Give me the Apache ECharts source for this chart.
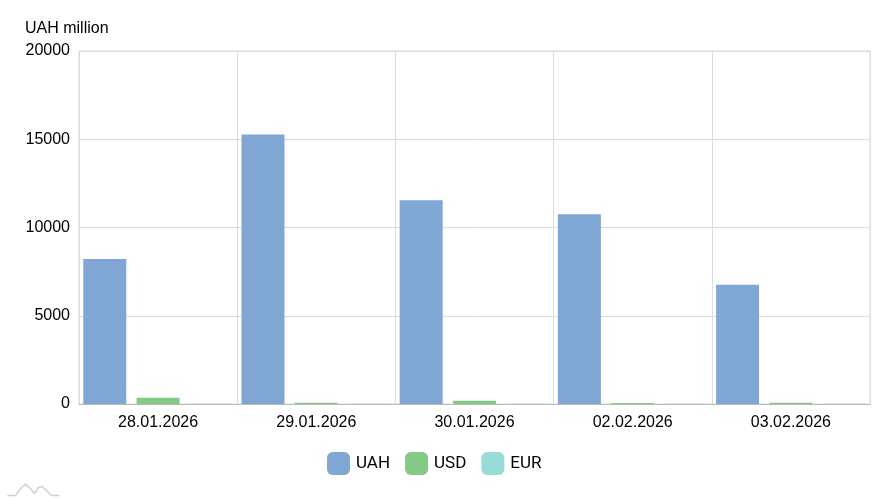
<!DOCTYPE html>
<html>
<head>
<meta charset="utf-8">
<script src="https://cdn.jsdelivr.net/npm/echarts@6/dist/echarts.min.js"></script>
<style>html,body{margin:0;padding:0;background:#fff}#c{width:891px;height:500px}</style>
</head>
<body>
<div id="c"></div>
<script>
const categories = ['28.01.2026', '29.01.2026', '30.01.2026', '02.02.2026', '03.02.2026'];
const uahValues = [8220, 15270, 11550, 10750, 6750];
const usdValues = [350, 70, 190, 60, 75];
const eurValues = [20, 15, 20, 15, 20];
const yTicks = [0, 5000, 10000, 15000, 20000];

const chart = echarts.init(document.getElementById('c'), null, {renderer: 'canvas'});
const font = '"Liberation Sans", Arial, sans-serif';
chart.setOption({
  animation: false,
  grid: {left: 79, right: 21, top: 51, bottom: 96, show: true, borderColor: '#dcdcdc', borderWidth: 1},
  legend: {
    bottom: 20, left: 322,
    itemWidth: 23, itemHeight: 23, itemGap: 15,
    icon: 'roundRect',
    textStyle: {fontFamily: 'Roboto, sans-serif', fontSize: 17, color: '#000', padding: [0,0,0,1]},
    data: ['UAH', 'USD', 'EUR']
  },
  xAxis: {
    type: 'category', data: categories,
    axisLine: {lineStyle: {color: '#bbb'}},
    axisTick: {show: false},
    splitLine: {show: true, lineStyle: {color: '#dcdcdc'}},
    axisLabel: {fontFamily: font, fontSize: 16, color: '#000', margin: 11}
  },
  yAxis: {
    type: 'value', min: yTicks[0], max: yTicks[yTicks.length - 1], interval: 5000,
    name: 'UAH million',
    nameLocation: 'end', nameGap: 14,
    nameTextStyle: {fontFamily: font, fontSize: 16, color: '#000', align: 'left', padding: [0, 0, 0, -54]},
    axisLine: {show: false}, axisTick: {show: false},
    splitLine: {lineStyle: {color: '#dcdcdc'}},
    axisLabel: {fontFamily: font, fontSize: 16, color: '#000', margin: 9, formatter: v => String(v)}
  },
  series: [
    {name: 'UAH', type: 'bar', data: uahValues, barWidth: 43, barGap: '24%',
     itemStyle: {color: '#80a6d4'}},
    {name: 'USD', type: 'bar', data: usdValues, barWidth: 43, itemStyle: {color: '#85c987'}},
    {name: 'EUR', type: 'bar', data: eurValues, barWidth: 43, itemStyle: {color: '#98dcd8'}}
  ],
  graphic: [{
    type: 'polyline', left: 5, top: 482,
    shape: {points: [[0,12],[8,12],[14,4],[18,1],[22,4],[27,10],[31,4],[35,3],[40,8],[44,12],[52,12]]},
    style: {stroke: '#cfcfcf', lineWidth: 1.5, fill: null}
  }]
});
</script>
</body>
</html>
